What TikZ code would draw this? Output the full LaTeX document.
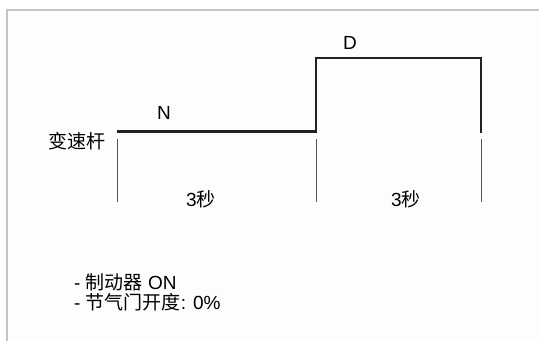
\documentclass[tikz,border=0pt]{standalone}
\usepackage{fontspec}
\setmainfont{Liberation Sans}
\newfontfamily\cjk{Noto Sans CJK SC}
\definecolor{bgc}{HTML}{FDFDFB}
\definecolor{framec}{HTML}{C4C4C4}
\definecolor{stepc}{HTML}{222222}
\definecolor{tickc}{HTML}{555555}
\begin{document}
\begin{tikzpicture}[x=1pt,y=-1pt,
  lbl/.style={inner sep=0pt,font=\fontsize{19}{22}\selectfont},
  stepline/.style={draw=stepc,line width=2.5pt},
  tickline/.style={draw=tickc,line width=0.9pt}]
\useasboundingbox (0,0) rectangle (539,341);
\fill[white] (0,0) rectangle (539,341);
\fill[bgc] (7,10) rectangle (539,341);
\draw[framec,line width=2pt] (7,341) -- (7,10) -- (539,10);
% step coordinates
\coordinate (s0) at (117,131.5);
\coordinate (s1) at (316,131.5);
\coordinate (s2) at (316,58);
\coordinate (s3) at (481,58);
\coordinate (s4) at (481,133);
\draw[stepline,line join=miter] (s0) -- (s1) -- (s2) -- (s3) -- (s4);
% ticks
\coordinate (t0a) at (117,139); \coordinate (t0b) at (117,202);
\coordinate (t1a) at (316,139); \coordinate (t1b) at (316,202);
\coordinate (t2a) at (481,139); \coordinate (t2b) at (481,202);
\draw[tickline] (t0a) -- (t0b);
\draw[tickline] (t1a) -- (t1b);
\draw[tickline] (t2a) -- (t2b);
% labels
\node[lbl] (n) at (164,113) {N};
\node[lbl] (d) at (350,43) {D};
\node[lbl] (lever) at (77,141.5) {\cjk 变速杆};
\node[lbl] (t1) at (201,199) {3\cjk 秒};
\node[lbl] (t2) at (406,199) {3\cjk 秒};
\node[lbl,anchor=west] (l1) at (74,282) {- {\cjk 制动器} ON};
\node[lbl,anchor=west] (l2) at (74,302) {- {\cjk 节气门开度}: 0\%};
\end{tikzpicture}
\end{document}
